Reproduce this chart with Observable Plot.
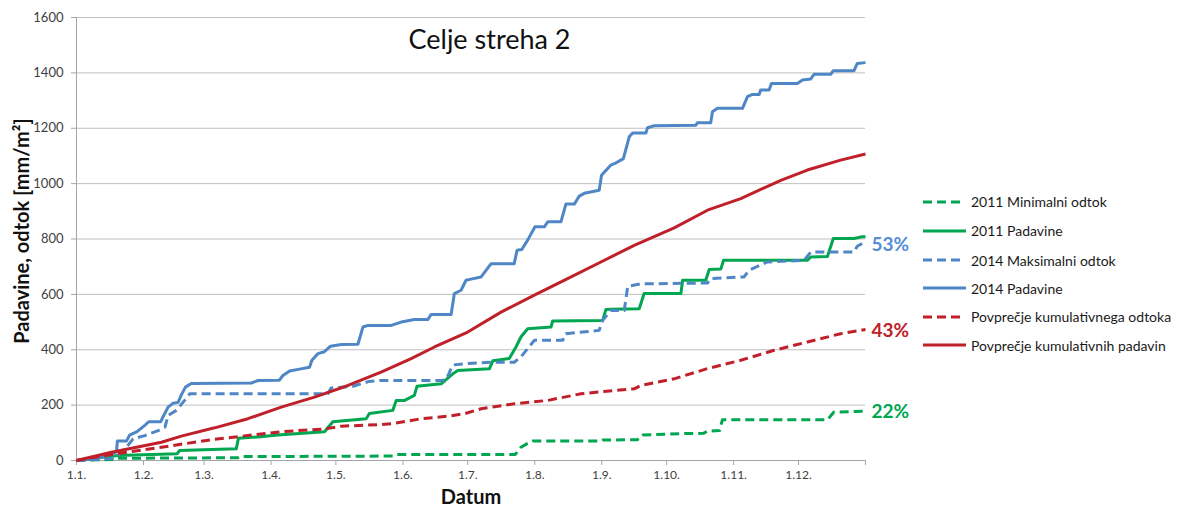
<!DOCTYPE html>
<html><head><meta charset="utf-8">
<script src="https://cdn.jsdelivr.net/npm/d3@7"></script>
<script src="https://cdn.jsdelivr.net/npm/@observablehq/plot@0.6"></script>
<style>
body{margin:0;background:#fff;font-family:Lato,"Open Sans",sans-serif;}
#wrap{position:relative;width:1181px;height:508px;overflow:hidden;}
#legend{position:absolute;left:923px;top:0;}
.item{position:absolute;left:0;height:20px;display:flex;align-items:center;white-space:nowrap;font-size:14px;color:#1a1a1a;}
.item svg{margin-right:5px;}
</style></head><body><div id="wrap"></div>
<script>
// ---- data ----
const monthLabels = ["1.1.","1.2.","1.3.","1.4.","1.5.","1.6.","1.7.","1.8.","1.9.","1.10.","1.11.","1.12."];
const monthStartDays = [0,31,59,90,120,151,181,212,243,273,304,334];
const yearEndDay = 365;
const yTicks = [0,200,400,600,800,1000,1200,1400,1600];

const seriesNames = ["2011 Minimalni odtok","2011 Padavine","2014 Maksimalni odtok","2014 Padavine","Povprečje kumulativnega odtoka","Povprečje kumulativnih padavin"];

// [day of year, cumulative mm/m²]
const min2011 = [[0,0],[18.5,4],[19,8],[74.6,10],[75.3,14],[146.3,16],[147.9,22],[203,22],[205.6,48],[208.7,62],[211,70],[242,70],[243.4,74],[259.5,75],[261.9,92],[279.6,97],[290,98],[291.9,106],[297.5,108],[298.8,147],[347.4,147],[350.4,175],[365,178]];
const pad2011 = [[0,0],[8,8],[19.2,18],[46.5,24],[47.7,36],[73.9,42],[74.9,80],[85,86],[93.2,92],[114.7,104],[118.6,140],[134,151],[135.5,170],[146.3,181],[147.9,217],[151.8,217],[156.3,235],[157.5,268],[168.7,277],[174.1,313],[176.4,325],[191,331],[192.6,360],[200.2,368],[203.3,410],[205.6,446],[208.7,476],[219.5,482],[220.3,504],[243.4,506],[244.9,545],[247.2,546],[260.3,548],[262.6,603],[279.6,603],[280.4,651],[291.1,651],[292.7,690],[298.1,692],[299.3,723],[338.1,723],[339.7,735],[347.4,737],[350.1,802],[359.7,802],[363.5,808],[365,808]];
const max2014 = [[0,0],[15,6],[18.5,12],[23.1,48],[26.2,78],[31.6,90],[37.8,108],[40.9,120],[42.4,163],[46.2,181],[50,217],[52.4,241],[116.3,241],[117.8,262],[128,268],[135,285],[140,289],[168.7,289],[171,292],[174.1,345],[180.2,350],[191.8,355],[202.5,355],[205.6,374],[211.8,434],[224.9,434],[226.4,458],[241.8,470],[243.4,506],[247.2,542],[253.4,542],[255,629],[261,638],[291.9,641],[293.4,657],[308.8,663],[311.1,687],[319.6,717],[336.6,723],[339.7,753],[359.7,753],[361.2,774],[363.5,784],[365,784]];
const pad2014 = [[0,0],[10,8],[18.5,30],[18.9,70],[23.1,70],[24.6,92],[28,104],[31.6,127],[33.4,140],[39,140],[40.1,159],[42.4,193],[44.7,207],[47,210],[48.5,237],[50.4,265],[53.1,278],[80.9,280],[84,289],[93.8,290],[95.5,307],[98.6,323],[103.2,330],[107.8,337],[108.9,362],[111.7,386],[114.7,393],[117.5,413],[122.5,419],[130.2,420],[132.5,482],[134.8,488],[145.6,488],[150.2,500],[156.3,509],[162.5,509],[164,527],[173.3,527],[174.8,603],[177.9,615],[180.2,651],[182.5,655],[187.2,663],[191.8,711],[202.5,711],[203.8,759],[206,762],[208.7,796],[212.1,844],[216.4,844],[218,862],[224.1,862],[226.4,926],[230.3,926],[232.6,955],[234.9,965],[241.8,976],[242.9,1030],[247.2,1067],[248.8,1072],[251.8,1085],[253,1090],[255.7,1169],[257.3,1183],[263.4,1183],[264.2,1202],[267.2,1209],[286.5,1211],[287.3,1220],[293.4,1220],[294.2,1260],[296.5,1272],[308.1,1272],[310.4,1314],[312.7,1322],[315.8,1322],[316.5,1338],[320.4,1338],[321.5,1362],[333.5,1362],[335.8,1374],[339.7,1378],[341.2,1395],[348.9,1395],[350.1,1408],[359.7,1408],[361.2,1434],[365,1437]];
const avgOdtok = [[0,0],[16.2,22],[39.3,48],[62.4,75],[74.6,86],[94.7,104],[114.7,114],[122.5,124],[140.9,130],[147,134],[159.4,151],[172,160],[179.5,169],[187.2,187],[202.5,205],[218,217],[233.4,241],[248.8,253],[258,259],[261.1,271],[276.5,295],[291.9,332],[307.3,362],[322.7,398],[338.1,428],[353.5,458],[365,473]];
const avgPadavine = [[0,0],[16.2,30],[39.3,66],[48.5,88],[63.9,118],[79.3,151],[94.7,193],[110.1,229],[125.6,271],[140.9,319],[154.8,368],[165.6,410],[181,464],[196.4,536],[211.8,597],[227.2,657],[242.6,717],[258,777],[276.5,840],[291.9,904],[307.3,946],[325.8,1012],[338.1,1049],[353.5,1085],[365,1107]];

const percentLabels = [["2014 Maksimalni odtok","53%"],["Povprečje kumulativnega odtoka","43%"],["2011 Minimalni odtok","22%"]];

// ---- styles ----
const seriesData = [min2011, pad2011, max2014, pad2014, avgOdtok, avgPadavine];
const GREEN = "#00a650", BLUE = "#4f86c6", RED = "#c0202a";
const seriesColors = [GREEN, GREEN, BLUE, BLUE, RED, RED];
const seriesDashed = [true, false, true, false, true, false];
const labelColors = {"53%": "#558ed5", "43%": RED, "22%": GREEN};

const table = seriesNames.flatMap((name, i) => seriesData[i].map(([day, value]) => ({series: name, day, value})));

const lastPoints = percentLabels.map(([name, text]) => {
  const arr = seriesData[seriesNames.indexOf(name)];
  const [day, value] = arr[arr.length - 1];
  return {day, value, text};
});

const font = "Lato, 'Open Sans', sans-serif";

const chart = Plot.plot({
  width: 1181,
  height: 508,
  marginLeft: 76,
  marginRight: 316,
  marginTop: 17,
  marginBottom: 48,
  style: {fontFamily: font, background: "#fff"},
  x: {type: "linear", domain: [0, yearEndDay]},
  y: {domain: [0, 1600]},
  marks: [
    Plot.gridY(yTicks, {stroke: "#bfbfbf", strokeOpacity: 1}),
    Plot.ruleX([0], {stroke: "#a6a6a6"}),
    Plot.ruleY([0], {stroke: "#a6a6a6"}),
    Plot.axisY(yTicks, {tickSize: 5, tickPadding: 8, fontSize: 13, stroke: "#a6a6a6", fill: "#404040", label: null, tickFormat: d => String(d)}),
    Plot.axisX([...monthStartDays, yearEndDay], {tickSize: 5, tickPadding: 5, fontSize: 12, stroke: "#a6a6a6", fill: "#404040", label: null,
      tickFormat: d => { const k = monthStartDays.indexOf(d); return k >= 0 ? monthLabels[k] : ""; }}),
    ...seriesNames.map((name, i) => Plot.line(table.filter(d => d.series === name), {
      x: "day", y: "value", stroke: seriesColors[i], strokeWidth: 3,
      strokeDasharray: seriesDashed[i] ? "9,5" : null, strokeLinejoin: "round", strokeLinecap: "butt"
    })),
    Plot.text(lastPoints, {x: "day", y: "value", text: "text", dx: 6, dy: 1, textAnchor: "start", lineAnchor: "middle",
      fontSize: 19, fontWeight: "bold", fill: d => labelColors[d.text]}),
    Plot.text(["Celje streha 2"], {frameAnchor: "top-left", dx: 332, dy: 23, textAnchor: "start", lineAnchor: "middle", fontSize: 27, fill: "#111"}),
    Plot.text(["Datum"], {frameAnchor: "bottom", dy: 37, textAnchor: "middle", lineAnchor: "middle", fontSize: 20, fontWeight: "bold", fill: "#111"}),
    Plot.text(["Padavine, odtok [mm/m²]"], {frameAnchor: "left", dx: -54, dy: -8, rotate: -90, textAnchor: "middle", lineAnchor: "middle", fontSize: 20, fontWeight: "bold", fill: "#111"})
  ]
});

const wrap = document.getElementById("wrap");
wrap.appendChild(chart);

// legend
const legend = document.createElement("div");
legend.id = "legend";
const legendRowY = [201.7, 230.7, 260, 288, 316.7, 345];
seriesNames.forEach((name, i) => {
  const item = document.createElement("div");
  item.className = "item";
  item.style.top = (legendRowY[i] - 10) + "px";
  const w = seriesDashed[i] ? 40 : 43;
  item.innerHTML = `<svg width="${w}" height="6"><line x1="0" y1="3" x2="${w}" y2="3" stroke="${seriesColors[i]}" stroke-width="3" ${seriesDashed[i] ? 'stroke-dasharray="9,5"' : ''}/></svg><span style="margin-left:${seriesDashed[i] ? 3 : 0}px">${name}</span>`;
  legend.appendChild(item);
});
wrap.appendChild(legend);
</script>
</body></html>
